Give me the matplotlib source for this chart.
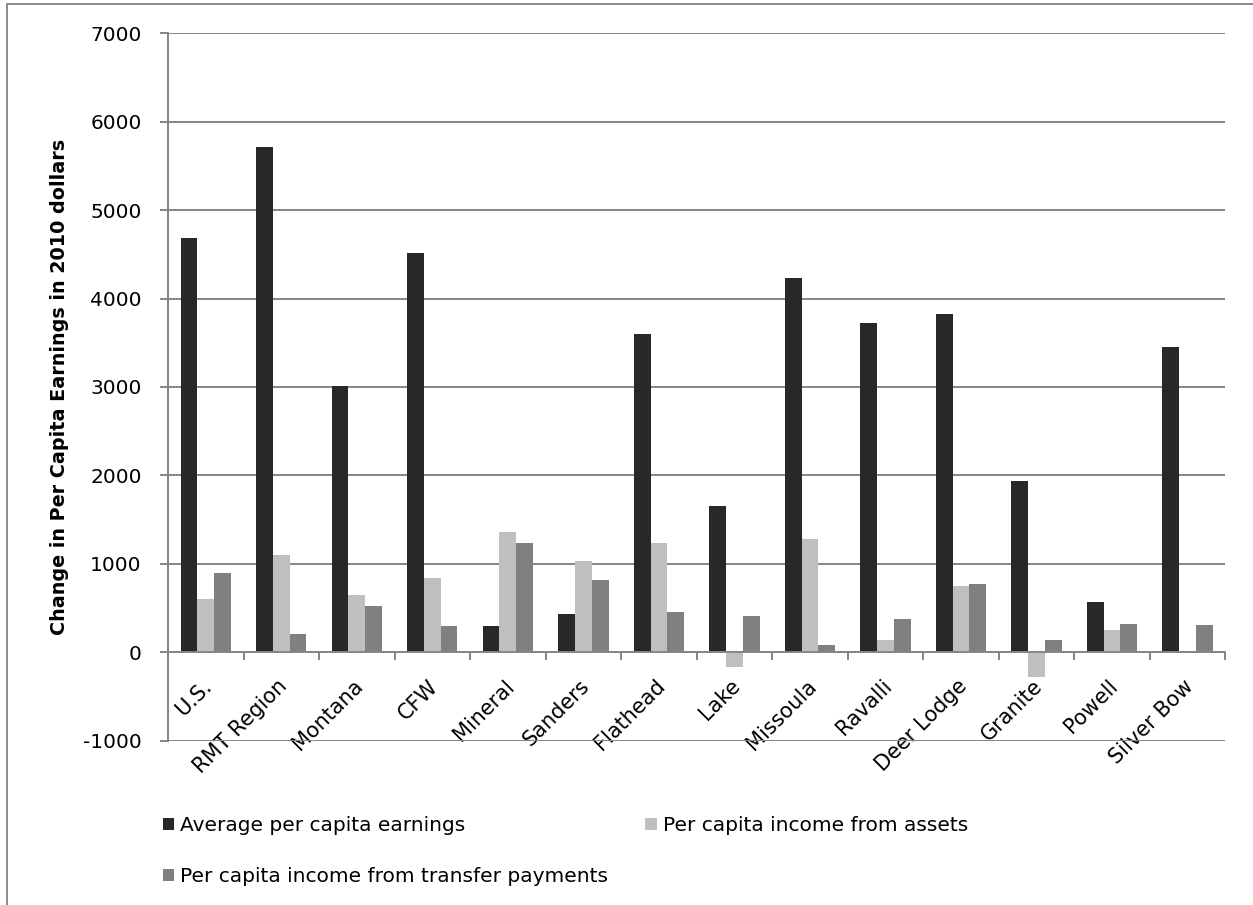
import matplotlib
matplotlib.use("Agg")
import matplotlib.pyplot as plt
import matplotlib.transforms as mtransforms
import numpy as np
from matplotlib.lines import Line2D

categories = ["U.S.", "RMT Region", "Montana", "CFW", "Mineral", "Sanders", "Flathead",
              "Lake", "Missoula", "Ravalli", "Deer Lodge", "Granite", "Powell", "Silver Bow"]
earnings = [4690, 5710, 3010, 4520, 300, 435, 3600, 1650, 4235, 3720, 3820, 1935, 570, 3450]
assets = [605, 1105, 650, 843, 1365, 1035, 1235, -170, 1285, 140, 745, -280, 250, 0]
transfers = [892, 212, 521, 295, 1235, 820, 458, 412, 84, 378, 775, 144, 325, 306]
series_names = ["Average per capita earnings", "Per capita income from assets",
                "Per capita income from transfer payments"]
colors = ["#282828", "#BFBFBF", "#808080"]
yticks = [-1000, 0, 1000, 2000, 3000, 4000, 5000, 6000, 7000]

plt.rcParams['font.family'] = ['DejaVu Sans']
FS = 14.5
W, H = 1253, 905
fig = plt.figure(figsize=(W / 100, H / 100), dpi=100)
ax = fig.add_axes([168 / W, 1 - 740.7 / H, (1225.3 - 168) / W, (740.7 - 33.3) / H])

x = np.arange(len(categories))
w = 0.222
grid_c = "#868686"
handles = []
for i, (vals, c, name) in enumerate(zip([earnings, assets, transfers], colors, series_names)):
    h = ax.bar(x + (i - 1) * w, vals, width=w, color=c, label=name, zorder=3, linewidth=0)
    handles.append(h)

ax.set_xlim(-0.5, len(categories) - 0.5)
ax.set_ylim(-1000, 7000)
ax.set_yticks(yticks)
ax.set_yticklabels([str(v) for v in yticks], fontsize=FS)
ax.yaxis.grid(True, color=grid_c, linewidth=1.4, zorder=0)
ax.set_axisbelow(True)

for s in ["top", "right"]:
    ax.spines[s].set_visible(False)
ax.spines["left"].set_color(grid_c)
ax.spines["left"].set_linewidth(1.4)
ax.spines["bottom"].set_position(("data", 0))
ax.spines["bottom"].set_color(grid_c)
ax.spines["bottom"].set_linewidth(1.4)
ax.spines["bottom"].set_zorder(4)

ax.tick_params(axis="y", length=6, width=1.4, color=grid_c, pad=13)
ax.set_xticks(np.arange(len(categories) + 1) - 0.5)
ax.set_xticklabels([])
ax.tick_params(axis="x", which="major", length=6, width=1.4, color=grid_c, direction="out")
ax.set_xticks(x, minor=True)
ax.set_xticklabels(categories, minor=True, fontsize=15, rotation=45,
                   ha="right", va="top", rotation_mode="anchor")
ax.tick_params(axis="x", which="minor", length=0, pad=17)
off = mtransforms.ScaledTranslation(-4 / 100, 0, fig.dpi_scale_trans)
for lab in ax.get_xticklabels(minor=True):
    lab.set_transform(lab.get_transform() + off)

ax.set_ylabel("Change in Per Capita Earnings in 2010 dollars", fontsize=13.8,
              fontweight="bold", labelpad=10)

order = [0, 2, 1]
fig.legend([handles[i] for i in order], [series_names[i] for i in order],
           loc="upper left", bbox_to_anchor=(155 / W, 1 - 808 / H), ncol=2, frameon=False,
           fontsize=FS, handlelength=0.55, handleheight=0.55, handletextpad=0.3,
           columnspacing=1.85, labelspacing=1.6, borderaxespad=0)

fig.add_artist(Line2D([7 / W, 7 / W], [0, 1 - 4 / H], transform=fig.transFigure,
                      color="#8a8a8a", linewidth=1.4))
fig.add_artist(Line2D([7 / W, 1], [1 - 4 / H, 1 - 4 / H], transform=fig.transFigure,
                      color="#8a8a8a", linewidth=1.4))

fig.savefig("out.png", dpi=100)
